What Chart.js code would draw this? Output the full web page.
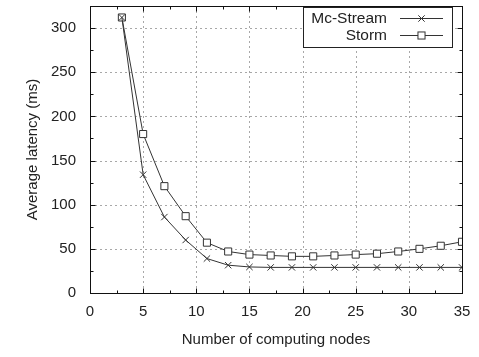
<!DOCTYPE html>
<html>
<head>
<meta charset="utf-8">
<script src="https://cdn.jsdelivr.net/npm/chart.js@4/dist/chart.umd.min.js"></script>
<style>
  html, body { margin: 0; padding: 0; background: #fff; }
  canvas { display: block; }
</style>
</head>
<body>
<canvas id="chart" width="479" height="357"></canvas>
<script>
// Number of computing nodes
const nodes = [3, 5, 7, 9, 11, 13, 15, 17, 19, 21, 23, 25, 27, 29, 31, 33, 35];
// Average latency (ms)
const mcStream = [312, 134, 86, 60, 39, 31.5, 29.5, 29, 29, 29, 29, 29, 29, 29, 29, 29, 29];
const storm    = [312, 180, 121, 87, 57, 47, 43.5, 42.5, 41.5, 41.5, 42.5, 43.5, 44.5, 47, 50, 53.5, 58];
const seriesNames = ['Mc-Stream', 'Storm'];

const xTicks = [0, 5, 10, 15, 20, 25, 30, 35];
const yTicks = [0, 50, 100, 150, 200, 250, 300];

const FONT = "'Liberation Sans', Arial, sans-serif";
const INK = '#222';
const LINE = '#333';

const toPoints = ys => nodes.map((x, i) => ({ x, y: ys[i] }));

// Grid, frame with mirrored inward ticks, and the boxed key
const framePlugin = {
  id: 'frame',
  beforeDatasetsDraw(chart) {
    const { ctx, chartArea: a, scales: { x, y } } = chart;
    ctx.save();
    ctx.strokeStyle = '#a8a8a8';
    ctx.lineWidth = 1;
    ctx.setLineDash([2, 3]);
    xTicks.forEach(v => {
      if (v <= x.min || v >= x.max) return;
      const px = Math.round(x.getPixelForValue(v)) + 0.5;
      ctx.beginPath(); ctx.moveTo(px, a.top); ctx.lineTo(px, a.bottom); ctx.stroke();
    });
    yTicks.forEach(v => {
      if (v <= y.min || v >= y.max) return;
      const py = Math.round(y.getPixelForValue(v)) + 0.5;
      ctx.beginPath(); ctx.moveTo(a.left, py); ctx.lineTo(a.right, py); ctx.stroke();
    });
    ctx.restore();
  },
  afterDatasetsDraw(chart) {
    const { ctx, chartArea: a, scales: { x, y } } = chart;
    ctx.save();
    ctx.strokeStyle = '#111';
    ctx.lineWidth = 1;
    ctx.setLineDash([]);
    const L = Math.round(a.left) + 0.5, R = Math.round(a.right) + 0.5;
    const T = Math.round(a.top) + 0.5, B = Math.round(a.bottom) + 0.5;
    // inward tick marks on all four sides
    for (let v = x.min; v <= x.max + 1e-9; v += 2.5) {
      const len = (Math.abs(v % 5) < 1e-9) ? 5 : 3;
      const px = Math.round(x.getPixelForValue(v)) + 0.5;
      ctx.beginPath();
      ctx.moveTo(px, B); ctx.lineTo(px, B - len);
      ctx.moveTo(px, T); ctx.lineTo(px, T + len);
      ctx.stroke();
    }
    for (let v = 0; v <= y.max + 1e-9; v += 25) {
      const len = (v % 50 === 0) ? 5 : 3;
      const py = Math.round(y.getPixelForValue(v)) + 0.5;
      ctx.beginPath();
      ctx.moveTo(L, py); ctx.lineTo(L + len, py);
      ctx.moveTo(R, py); ctx.lineTo(R - len, py);
      ctx.stroke();
    }
    ctx.strokeRect(L, T, R - L, B - T);

    // key box in the upper right corner
    const bx = 303.5, by = 7.5, bw = 149, bh = 40;
    ctx.fillStyle = '#fff';
    ctx.fillRect(bx, by, bw, bh);
    ctx.strokeStyle = '#222';
    ctx.strokeRect(bx, by, bw, bh);
    ctx.font = '15.5px ' + FONT;
    ctx.fillStyle = INK;
    ctx.textAlign = 'right';
    ctx.textBaseline = 'middle';
    const rows = [17.5, 35];
    chart.data.datasets.forEach((ds, i) => {
      const ry = Math.round(rows[i]) + 0.5;
      ctx.fillStyle = INK;
      ctx.fillText(seriesNames[i], 387, ry + 0.5);
      ctx.strokeStyle = LINE;
      ctx.lineWidth = 1;
      ctx.beginPath(); ctx.moveTo(400, ry); ctx.lineTo(443, ry); ctx.stroke();
      if (ds.pointStyle === 'rect') {
        const s = ds.pointRadius * Math.SQRT1_2;
        ctx.fillStyle = '#fff';
        ctx.fillRect(421.5 - s, ry - s, 2 * s, 2 * s);
        ctx.strokeRect(421.5 - s, ry - s, 2 * s, 2 * s);
      } else {
        Chart.helpers.drawPoint(ctx, {
          pointStyle: ds.pointStyle, radius: ds.pointRadius, rotation: 0, borderWidth: 1
        }, 421.5, ry);
      }
    });
    ctx.restore();
  }
};

new Chart(document.getElementById('chart'), {
  type: 'line',
  data: {
    datasets: [
      {
        label: seriesNames[0],
        data: toPoints(mcStream),
        borderColor: LINE,
        borderWidth: 1,
        pointStyle: 'crossRot',
        pointRadius: 4.5,
        pointBorderColor: LINE,
        pointBorderWidth: 1,
        tension: 0
      },
      {
        label: seriesNames[1],
        data: toPoints(storm),
        borderColor: LINE,
        borderWidth: 1,
        pointStyle: 'rect',
        pointRadius: 5,
        pointBackgroundColor: '#fff',
        pointBorderColor: LINE,
        pointBorderWidth: 1,
        tension: 0
      }
    ]
  },
  options: {
    responsive: false,
    animation: false,
    layout: { padding: { left: 0, right: 17, top: 5, bottom: 0 } },
    plugins: { legend: { display: false }, tooltip: { enabled: false } },
    scales: {
      x: {
        type: 'linear',
        min: 0, max: 35,
        grid: { display: false },
        border: { display: false },
        afterBuildTicks: s => { s.ticks = xTicks.map(v => ({ value: v })); },
        afterFit: s => { s.height = 64; s.paddingLeft = 0; s.paddingRight = 0; },
        ticks: { color: INK, font: { family: FONT, size: 15 }, padding: 2, maxRotation: 0 },
        title: {
          display: true, text: 'Number of computing nodes', color: INK,
          font: { family: FONT, size: 15 }, padding: { top: 0, bottom: 8 }
        }
      },
      y: {
        min: 0, max: 325,
        grid: { display: false },
        border: { display: false },
        afterBuildTicks: s => { s.ticks = yTicks.map(v => ({ value: v })); },
        afterFit: s => { s.width = 90; s.paddingTop = 0; s.paddingBottom = 0; },
        ticks: { color: INK, font: { family: FONT, size: 15 }, padding: 6 },
        title: {
          display: true, text: 'Average latency (ms)', color: INK,
          font: { family: FONT, size: 15 }, padding: { top: 24, bottom: 0 }
        }
      }
    }
  },
  plugins: [framePlugin]
});
</script>
</body>
</html>
